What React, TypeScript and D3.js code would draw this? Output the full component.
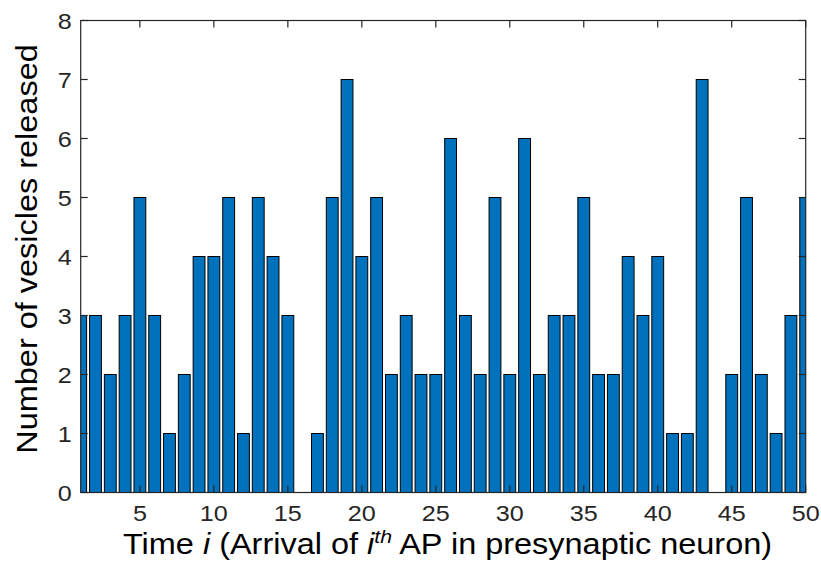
import React from "react";
import * as d3 from "d3";

const times: number[] = Array.from({ length: 50 }, (_, i) => i + 1);
const vesicles: number[] = [
  3, 3, 2, 3, 5, 3, 1, 2, 4, 4,
  5, 1, 5, 4, 3, 0, 1, 5, 7, 4,
  5, 2, 3, 2, 2, 6, 3, 2, 5, 2,
  6, 2, 3, 3, 5, 2, 2, 4, 3, 4,
  1, 1, 7, 0, 2, 5, 2, 1, 3, 5,
];
const xTicks: number[] = [5, 10, 15, 20, 25, 30, 35, 40, 45, 50];
const yTicks: number[] = [0, 1, 2, 3, 4, 5, 6, 7, 8];

const W = 821;
const H = 563;
const left = 80.7;
const right = 805.7;
const top = 20.5;
const bottom = 492.5;
const axisColor = "#262626";
const font = "'Liberation Sans', Arial, Helvetica, sans-serif";
const sx = 1.12;

export default function App() {
  const x = d3.scaleLinear().domain([1, 50]).range([left, right]);
  const y = d3.scaleLinear().domain([0, 8]).range([bottom, top]);
  const step = x(2) - x(1);
  const bw = step * 0.8;
  return (
    <svg width={W} height={H} style={{ position: "absolute", left: 0, top: 0, background: "#fff" }}>
      <defs>
        <clipPath id="plotclip">
          <rect x={left} y={top - 1} width={right - left} height={bottom - top + 2} />
        </clipPath>
      </defs>
      <g clipPath="url(#plotclip)">
        {times.map((t, i) => (
          <rect
            key={t}
            x={x(t) - bw / 2}
            y={y(vesicles[i])}
            width={bw}
            height={Math.max(0, y(0) - y(vesicles[i]))}
            fill="#0072BD"
            stroke="#000"
            strokeWidth={1}
          />
        ))}
      </g>
      <rect x={left} y={top} width={right - left} height={bottom - top} fill="none" stroke={axisColor} strokeWidth={1.2} />
      {xTicks.map((t) => (
        <g key={"x" + t}>
          <line x1={x(t)} x2={x(t)} y1={bottom} y2={bottom - 7} stroke={axisColor} strokeWidth={1.2} />
          <line x1={x(t)} x2={x(t)} y1={top} y2={top + 7} stroke={axisColor} strokeWidth={1.2} />
          <text
            transform={`translate(${x(t)}, 521) scale(${sx},1)`}
            textAnchor="middle"
            fontFamily={font}
            fontSize={22.5}
            fill={axisColor}
          >
            {t}
          </text>
        </g>
      ))}
      {yTicks.map((t) => (
        <g key={"y" + t}>
          <line x1={left} x2={left + 7} y1={y(t)} y2={y(t)} stroke={axisColor} strokeWidth={1.2} />
          <line x1={right} x2={right - 7} y1={y(t)} y2={y(t)} stroke={axisColor} strokeWidth={1.2} />
          <text
            transform={`translate(71.7, ${y(t) + 8}) scale(${sx},1)`}
            textAnchor="end"
            fontFamily={font}
            fontSize={22.5}
            fill={axisColor}
          >
            {t}
          </text>
        </g>
      ))}
      <text
        transform={`translate(447.5, 554) scale(${sx},1)`}
        textAnchor="middle"
        fontFamily={font}
        fontSize={29}
        fill="#000"
      >
        Time <tspan fontStyle="italic">i</tspan> (Arrival of <tspan fontStyle="italic">i</tspan>
        <tspan fontStyle="italic" fontSize={19} dy={-11}>th</tspan>
        <tspan dy={11}> AP in presynaptic neuron)</tspan>
      </text>
      <text
        transform={`translate(36.5, 249) rotate(-90) scale(${sx},1)`}
        textAnchor="middle"
        fontFamily={font}
        fontSize={29}
        fill="#000"
      >
        Number of vesicles released
      </text>
    </svg>
  );
}
